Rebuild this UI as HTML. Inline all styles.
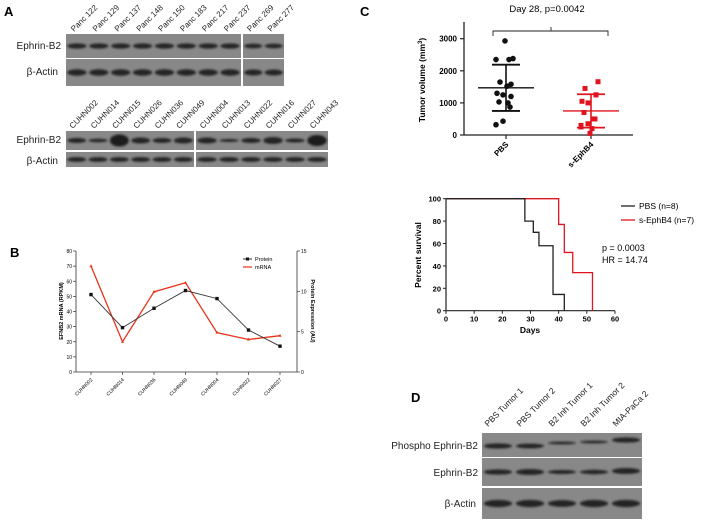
<!DOCTYPE html>
<html><head><meta charset="utf-8"><style>
body{margin:0;background:#fff;font-family:"Liberation Sans",sans-serif}
svg{display:block}
text{font-family:"Liberation Sans",sans-serif}
</style></head><body>
<svg id="fig" width="711" height="524" viewBox="0 0 711 524" xmlns="http://www.w3.org/2000/svg">
<defs><filter id="bl" x="-20%" y="-100%" width="140%" height="300%"><feGaussianBlur stdDeviation="1.1"/></filter></defs>
<g id="panelA"></g>
<g id="panelB"></g>
<g id="panelC"></g>
<g id="panelS"></g>
<g id="panelD"></g>
</svg>
<script>
const NS="http://www.w3.org/2000/svg";
// ---- data ----
const bCategories=["CUHN002","CUHN014","CUHN036","CUHN049","CUHN004","CUHN022","CUHN027"];
const bMrna=[70,20,53,59,26,21.5,24];
const bProtein=[9.6,5.5,7.9,10.1,9.1,5.2,3.2];
const bLeftTicks=[0,10,20,30,40,50,60,70,80];
const bRightTicks=[0,5,10,15];
const cCategories=["PBS","s-EphB4"];
const cPbs=[2930,2350,2350,2380,1650,1580,1300,1250,1200,1030,1000,870,430,320,1520];
const cEph=[1660,1450,1250,1050,1000,1250,700,500,500,350,250,200,50,300];
const cMean=[1470,750];
const cSd=[720,520];
const cTicks=[0,1000,2000,3000];
const sPbsT=[0,28,28,31,31,33,33,38,38,42,42];
const sPbsS=[100,100,80,80,70,70,58,58,14.5,14.5,0];
const sEphT=[0,40,40,42,42,45,45,52,52];
const sEphS=[100,100,77,77,52,52,34,34,0];
const sXTicks=[0,10,20,30,40,50,60];
const sYTicks=[0,20,40,60,80,100];

function el(parent,tag,attrs,txt){const e=document.createElementNS(NS,tag);for(const k in attrs)e.setAttribute(k,attrs[k]);if(txt!=null)e.textContent=txt;parent.appendChild(e);return e;}

const fig=document.getElementById('fig');
[["A",4,16],["B",10,257],["C",360,16],["D",411,402]].forEach(p=>{const t=el(fig,'text',{x:p[1],y:p[2],'font-size':13,'font-weight':'bold'},p[0]);

});

function blot(g,x,y,w,h,bands,name){
  const r=el(g,'rect',{x:x,y:y,width:w,height:h,fill:'#888'});
  
  
  const n=bands.length, lw=w/n;
  bands.forEach((b,i)=>{el(g,'ellipse',{cx:x+lw*(i+0.5),cy:y+h/2+(b[1]||0),rx:lw*0.44,ry:b[0],fill:'#1a1a1a',filter:'url(#bl)',opacity:b[2]||0.92});});
}
function lbl(g,x,y,t,anchor,size){const e=el(g,'text',{x:x,y:y,'font-size':size||10,'text-anchor':anchor||'end',fill:'#222'},t);

return e;}
function rot(g,x,y,t,size,ang){const a=ang||-45;const e=el(g,'text',{x:x,y:y,'font-size':size||8.5,transform:`rotate(${a} ${x} ${y})`,fill:'#222'},t);

}
const A=document.getElementById('panelA');
blot(A,66,34,175,24,Array(8).fill([2.6]),'ephrin-b2-blot-panc');
blot(A,243,34,41,24,Array(2).fill([2.3]),'ephrin-b2-blot-panc-2');
blot(A,66,59,175,27,Array(8).fill([3.2]),'actin-blot-panc');
blot(A,243,59,41,27,Array(2).fill([3]),'actin-blot-panc-2');
lbl(A,61,49,"Ephrin-B2");lbl(A,58,75,"β-Actin");
["Panc 122","Panc 129","Panc 137","Panc 148","Panc 150","Panc 183","Panc 217","Panc 237","Panc 269","Panc 277"].forEach((t,i)=>{const x=i<8?66+175/8*(i+0.5):243+41/2*(i-8+0.5);rot(A,x-3,32,t,8);});
blot(A,66,131,128,19,[[2.5],[1.8],[6,0,1],[3],[2.5],[3]],'ephrin-b2-blot-cuhn');
blot(A,196,131,132,19,[[3],[1.5],[2.5],[3.5],[2],[5.5,0,1]],'ephrin-b2-blot-cuhn-2');
blot(A,66,152,128,15,Array(6).fill([2.4]),'actin-blot-cuhn');
blot(A,196,152,132,15,Array(6).fill([2.4]),'actin-blot-cuhn-2');
lbl(A,61,143,"Ephrin-B2");lbl(A,58,164,"β-Actin");
["CUHN002","CUHN014","CUHN015","CUHN026","CUHN036","CUHN049"].forEach((t,i)=>rot(A,66+128/6*(i+0.5)-4,129,t,8));
["CUHN004","CUHN013","CUHN022","CUHN016","CUHN027","CUHN043"].forEach((t,i)=>rot(A,196+132/6*(i+0.5)-4,129,t,8));

// ---- panel B ----
const B=document.getElementById('panelB');
const bx0=76,bx1=297,by0=372,by1=251;
const bX=i=>91+i*31.5, bYL=v=>by0-(v/80)*(by0-by1), bYR=v=>by0-(v/15)*(by0-by1);
el(B,'line',{x1:bx0,y1:by1,x2:bx0,y2:by0,stroke:'#333','stroke-width':0.8});
el(B,'line',{x1:bx0,y1:by0,x2:bx1,y2:by0,stroke:'#333','stroke-width':0.8});
el(B,'line',{x1:bx1,y1:by1,x2:bx1,y2:by0,stroke:'#333','stroke-width':0.8});
bLeftTicks.forEach(v=>{el(B,'line',{x1:bx0-3,x2:bx0,y1:bYL(v),y2:bYL(v),stroke:'#333','stroke-width':0.7});el(B,'text',{x:bx0-4,y:bYL(v)+2,'font-size':5,'text-anchor':'end'},v);});
bRightTicks.forEach(v=>{el(B,'line',{x1:bx1,x2:bx1+3,y1:bYR(v),y2:bYR(v),stroke:'#333','stroke-width':0.7});el(B,'text',{x:bx1+4,y:bYR(v)+2,'font-size':5},v);});
bCategories.forEach((c,i)=>{el(B,'line',{x1:bX(i),x2:bX(i),y1:by0,y2:by0+3,stroke:'#333','stroke-width':0.7});const t=el(B,'text',{x:bX(i)+2,y:by0+8,'font-size':5,'text-anchor':'end',transform:`rotate(-45 ${bX(i)+2} ${by0+8})`},c);

});
el(B,'text',{x:63,y:311,'font-size':5.5,'text-anchor':'middle',transform:'rotate(-90 63 311)','font-weight':'bold'},"EFNB2 mRNA (RPKM)");
el(B,'text',{x:311,y:311,'font-size':5.5,'text-anchor':'middle',transform:'rotate(90 311 311)','font-weight':'bold'},"Protein Expression (AU)");
const pm=el(B,'polyline',{points:bMrna.map((v,i)=>bX(i)+','+bYL(v)).join(' '),fill:'none',stroke:'#e8341c','stroke-width':1.3});


const pp=el(B,'polyline',{points:bProtein.map((v,i)=>bX(i)+','+bYR(v)).join(' '),fill:'none',stroke:'#333','stroke-width':0.9});


bProtein.forEach((v,i)=>el(B,'rect',{x:bX(i)-1.7,y:bYR(v)-1.7,width:3.4,height:3.4,fill:'#111'}));
bMrna.forEach((v,i)=>el(B,'polygon',{points:`${bX(i)},${bYL(v)-1.8} ${bX(i)-1.6},${bYL(v)+1} ${bX(i)+1.6},${bYL(v)+1}`,fill:'#e8341c'}));
el(B,'line',{x1:243,x2:252,y1:259,y2:259,stroke:'#111','stroke-width':0.9});el(B,'rect',{x:246,y:257.5,width:3,height:3,fill:'#111'});
el(B,'text',{x:255,y:261,'font-size':5.5},"Protein");
el(B,'line',{x1:243,x2:252,y1:267,y2:267,stroke:'#e8341c','stroke-width':1.2});
el(B,'text',{x:255,y:269,'font-size':5.5},"mRNA");

// ---- panel C scatter ----
const C=document.getElementById('panelC');
const cy0=135,cyK=32.1/1000, cY=v=>cy0-v*cyK, cX=[506,591];
el(C,'line',{x1:464,y1:22,x2:464,y2:cy0,stroke:'#222','stroke-width':1.3});
el(C,'line',{x1:464,y1:cy0,x2:633,y2:cy0,stroke:'#222','stroke-width':1.3});
cTicks.forEach(v=>{el(C,'line',{x1:460,x2:464,y1:cY(v),y2:cY(v),stroke:'#222','stroke-width':1.2});el(C,'text',{x:457,y:cY(v)+3,'font-size':8,'font-weight':'bold','text-anchor':'end'},v);});
cCategories.forEach((c,i)=>{el(C,'line',{x1:cX[i],x2:cX[i],y1:cy0,y2:cy0+4,stroke:'#222','stroke-width':1.2});const t=el(C,'text',{x:cX[i]+3,y:cy0+10,'font-size':8,'font-weight':'bold','text-anchor':'end',transform:`rotate(-45 ${cX[i]+3} ${cy0+10})`},c);

});
const yt=el(C,'text',{x:425,y:80,'font-size':8.5,'font-weight':'bold','text-anchor':'middle',transform:'rotate(-90 425 80)'});yt.innerHTML='Tumor volume (mm<tspan font-size="6" dy="-3">3</tspan><tspan dy="3">)</tspan>';


el(C,'text',{x:547,y:12,'font-size':9.5,'text-anchor':'middle'},"Day 28, p=0.0042");
el(C,'path',{d:'M493,36 V31 H608 V36 M551,31 V27',fill:'none',stroke:'#222','stroke-width':0.9});
const offs=[-1,-10,3,7,-6,5,-9,-3,5,-7,2,4,-3,-10,1];
cPbs.forEach((v,i)=>el(C,'circle',{cx:cX[0]+offs[i%offs.length],cy:cY(v),r:2.8,fill:'#111'}));
cEph.forEach((v,i)=>el(C,'rect',{x:cX[1]+offs[(i+3)%offs.length]-2.5,y:cY(v)-2.5,width:5,height:5,fill:'#e0141e'}));
[0,1].forEach(i=>{const col=i?'#e0141e':'#111';
el(C,'line',{x1:cX[i]-28,x2:cX[i]+28,y1:cY(cMean[i]),y2:cY(cMean[i]),stroke:col,'stroke-width':1.3});
el(C,'line',{x1:cX[i]-14,x2:cX[i]+14,y1:cY(cMean[i]+cSd[i]),y2:cY(cMean[i]+cSd[i]),stroke:col,'stroke-width':1.8});
el(C,'line',{x1:cX[i]-14,x2:cX[i]+14,y1:cY(cMean[i]-cSd[i]),y2:cY(cMean[i]-cSd[i]),stroke:col,'stroke-width':1.8});
el(C,'line',{x1:cX[i],x2:cX[i],y1:cY(cMean[i]+cSd[i]),y2:cY(cMean[i]-cSd[i]),stroke:col,'stroke-width':1.6});});

// ---- survival ----
const S=document.getElementById('panelS');
const sX=d=>446+d*(615-446)/60, sY=v=>310.7-v*(310.7-198.7)/100;
el(S,'line',{x1:446,y1:sY(100),x2:446,y2:sY(0),stroke:'#222','stroke-width':1.2});
el(S,'line',{x1:446,y1:sY(0),x2:615,y2:sY(0),stroke:'#222','stroke-width':1.2});
sXTicks.forEach(v=>{el(S,'line',{x1:sX(v),x2:sX(v),y1:sY(0),y2:sY(0)+3,stroke:'#222','stroke-width':1});el(S,'text',{x:sX(v),y:sY(0)+11,'font-size':7.5,'font-weight':'bold','text-anchor':'middle'},v);});
sYTicks.forEach(v=>{el(S,'line',{x1:443,x2:446,y1:sY(v),y2:sY(v),stroke:'#222','stroke-width':1});el(S,'text',{x:441,y:sY(v)+3,'font-size':7.5,'font-weight':'bold','text-anchor':'end'},v);});
el(S,'text',{x:530,y:333,'font-size':8.5,'font-weight':'bold','text-anchor':'middle'},"Days");
el(S,'text',{x:421,y:255,'font-size':8.5,'font-weight':'bold','text-anchor':'middle',transform:'rotate(-90 421 255)'},"Percent survival");
function step(T,Sv){let d='';T.forEach((t,i)=>{d+=(i?'L':'M')+sX(t)+','+sY(Sv[i]);});return d;}
const l1=el(S,'path',{d:step(sEphT,sEphS),fill:'none',stroke:'#e0141e','stroke-width':1.3});


const l2=el(S,'path',{d:step(sPbsT,sPbsS),fill:'none',stroke:'#222','stroke-width':1.3});


el(S,'line',{x1:621,x2:635,y1:206,y2:206,stroke:'#222','stroke-width':1.3});
el(S,'text',{x:639,y:209,'font-size':8.5},"PBS (n=8)");
el(S,'line',{x1:621,x2:635,y1:220,y2:220,stroke:'#e0141e','stroke-width':1.3});
el(S,'text',{x:639,y:223,'font-size':8.5},"s-EphB4 (n=7)");
el(S,'text',{x:602,y:251,'font-size':9},"p = 0.0003");
el(S,'text',{x:602,y:263,'font-size':9},"HR = 14.74");

// ---- panel D ----
const D=document.getElementById('panelD');
blot(D,482,433,160,24,[[2.6,1],[2.4,1],[1.4,-2],[1.4,-3],[2.6,-5]],'phospho-ephrin-b2-blot');
blot(D,482,458,160,28,[[2.6],[3],[2],[2.2],[3,-1]],'ephrin-b2-blot');
blot(D,482,488,160,31,[[3.6],[3.6],[3.4],[3.6],[3.6]],'actin-blot');
lbl(D,478,449,"Phospho Ephrin-B2");lbl(D,478,476,"Ephrin-B2");lbl(D,476,507,"β-Actin");
["PBS Tumor 1","PBS Tumor 2","B2 Inh Tumor 1","B2 Inh Tumor 2","MIA-PaCa 2"].forEach((t,i)=>rot(D,482+32*(i+0.5)-10,427,t,8.5));
</script>
</body></html>
